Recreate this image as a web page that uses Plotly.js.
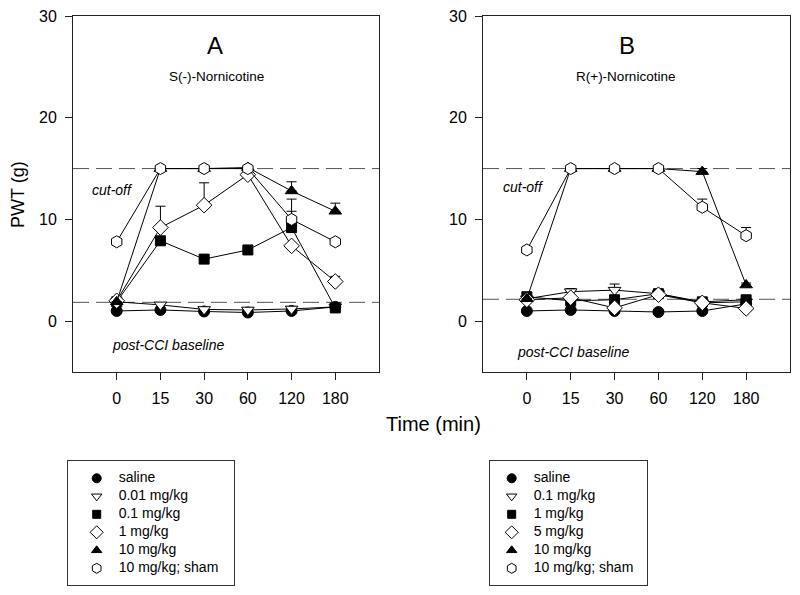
<!DOCTYPE html>
<html>
<head>
<meta charset="utf-8">
<script src="https://cdn.plot.ly/plotly-3.0.1.min.js"></script>
<style>html,body{margin:0;padding:0;background:#fff;}#chart{width:800px;height:595px;}</style>
</head>
<body>
<div id="chart"></div>
<script>
// ---- data ----
const timeCats = ['0', '15', '30', '60', '120', '180'];

// Panel A: S(-)-Nornicotine
const legendA = ['saline', '0.01 mg/kg', '0.1 mg/kg', '1 mg/kg', '10 mg/kg', '10 mg/kg; sham'];
const aSaline = [1.0, 1.1, 0.95, 0.85, 1.0, 1.4];
const a001 = [1.9, 1.6, 1.15, 1.1, 1.2, 1.4];
const a01 = [1.9, 7.9, 6.1, 7.0, 9.2, 1.3];
const a01Err = [null, null, null, 0.4, 1.6, null];
const a1 = [2.0, 9.2, 11.4, 14.4, 7.4, 3.9];
const a1Err = [null, 2.1, 2.2, null, null, 0.5];
const a10 = [1.9, 15, 15, 15.1, 12.8, 10.8];
const a10Err = [null, null, null, null, 0.9, 0.8];
const aSham = [7.8, 15, 15, 15, 10.0, 7.8];
const aShamErr = [null, null, null, null, 2.0, null];

// Panel B: R(+)-Nornicotine
const legendB = ['saline', '0.1 mg/kg', '1 mg/kg', '5 mg/kg', '10 mg/kg', '10 mg/kg; sham'];
const bSaline = [1.0, 1.1, 1.0, 0.9, 1.0, 1.7];
const b01 = [2.2, 2.9, 3.05, 2.7, 1.8, 1.9];
const b01Err = [null, 0.3, 0.6, 0.3, null, null];
const b1 = [2.4, 2.0, 2.1, 2.7, 1.9, 2.1];
const b1Err = [null, null, null, null, null, null];
const b5 = [2.1, 2.3, 1.3, 2.6, 1.8, 1.25];
const b5Err = [null, null, null, null, null, null];
const b10 = [2.2, 15, 15, 15, 14.7, 3.55];
const b10Err = [null, null, null, null, 0.3, 0.2];
const bSham = [7.0, 15, 15, 15, 11.2, 8.4];
const bShamErr = [null, null, null, null, 0.8, 0.8];

const cutoffA = 15, baselineA = 1.85;
const cutoffB = 15, baselineB = 2.15;

// ---- styles ----
const W = 800, H = 595;
const px = v => v / W;
const py = v => 1 - v / H;
const FONT = 'Arial, "Liberation Sans", sans-serif';
const styles = [
  {symbol: 'circle', color: '#000', size: 11},
  {symbol: 'triangle-down', color: '#fff', size: 11},
  {symbol: 'square', color: '#000', size: 10},
  {symbol: 'diamond', color: '#fff', size: 12},
  {symbol: 'triangle-up', color: '#000', size: 11},
  {symbol: 'hexagon', color: '#fff', size: 12}
];

function mk(name, y, err, st, xa, ya) {
  const t = {
    type: 'scatter', mode: 'lines+markers', name: name, x: timeCats, y: y,
    xaxis: xa, yaxis: ya, showlegend: false, cliponaxis: false,
    line: {color: '#000', width: 1},
    marker: {symbol: st.symbol, color: st.color, size: st.size, line: {color: '#000', width: 1}}
  };
  if (err) {
    t.error_y = {type: 'data', symmetric: false, array: err,
      arrayminus: err.map(() => 0), color: '#000', thickness: 1, width: 5};
  }
  return t;
}

const seriesA = [[aSaline, null], [a001, null], [a01, a01Err], [a1, a1Err], [a10, a10Err], [aSham, aShamErr]];
const seriesB = [[bSaline, null], [b01, b01Err], [b1, b1Err], [b5, b5Err], [b10, b10Err], [bSham, bShamErr]];

const data = [];
seriesA.forEach((s, i) => data.push(mk(legendA[i], s[0], s[1], styles[i], 'x', 'y')));
seriesB.forEach((s, i) => data.push(mk(legendB[i], s[0], s[1], styles[i], 'x2', 'y2')));

// legend keys: symbols + labels placed on their own small axes
function legendTraces(labels, xa, ya) {
  labels.forEach((lab, i) => {
    const st = styles[i];
    data.push({type: 'scatter', mode: 'markers', x: [0], y: [lab], xaxis: xa, yaxis: ya,
      showlegend: false, hoverinfo: 'skip', cliponaxis: false,
      marker: {symbol: st.symbol, color: st.color, size: st.size - 2, line: {color: '#000', width: 1}}});
  });
  data.push({type: 'scatter', mode: 'text', x: labels.map(() => 1.1), y: labels, text: labels,
    textposition: 'middle right', xaxis: xa, yaxis: ya, showlegend: false, hoverinfo: 'skip',
    cliponaxis: false, textfont: {family: FONT, size: 14, color: '#000'}});
}
legendTraces(legendA, 'x3', 'y3');
legendTraces(legendB, 'x4', 'y4');

const yDomain = [py(372), py(16)];
function xax(dom, anchor) {
  return {domain: dom, anchor: anchor, type: 'category', categoryorder: 'array', categoryarray: timeCats,
    range: [-1, 6], showline: true, mirror: true, linecolor: '#222', linewidth: 1,
    ticks: 'outside', ticklen: 7, tickcolor: '#222', showgrid: false, zeroline: false,
    tickfont: {family: FONT, size: 16, color: '#000'}, ticklabelstandoff: 5, fixedrange: true};
}
function yax(anchor) {
  return {domain: yDomain, anchor: anchor, range: [-5, 30], tickvals: [0, 10, 20, 30],
    showline: true, mirror: true, linecolor: '#222', linewidth: 1,
    ticks: 'outside', ticklen: 7, tickcolor: '#222', showgrid: false, zeroline: false,
    tickfont: {family: FONT, size: 16, color: '#000'}, ticklabelstandoff: 5, fixedrange: true};
}
// legend box axes: box 461..585 px, rows centred at 478.3 + 18*i
const ROW = 18;
const legY = [py(585), py(461)];
const legYRange = [5 + (585 - 568.3) / ROW, -(478.3 - 461) / ROW];
function legX(left, right, symX, anchor) {
  const u = 20;
  return {domain: [px(left), px(right)], anchor: anchor, range: [(left - symX) / u, (right - symX) / u],
    showline: true, mirror: true, linecolor: '#333', linewidth: 1, showticklabels: false,
    ticks: '', showgrid: false, zeroline: false, fixedrange: true};
}
function legYax(labels, anchor) {
  return {domain: legY, anchor: anchor, type: 'category', categoryorder: 'array', categoryarray: labels,
    range: legYRange, showline: true, mirror: true, linecolor: '#333', linewidth: 1,
    showticklabels: false, ticks: '', showgrid: false, zeroline: false, fixedrange: true};
}

function hline(xref, yref, y) {
  return {type: 'line', xref: xref + ' domain', yref: yref, x0: 0, x1: 1, y0: y, y1: y,
    line: {color: '#555', width: 1, dash: '16px,7px'}, layer: 'below'};
}
function txt(x, y, text, size, opts) {
  return Object.assign({xref: 'paper', yref: 'paper', x: px(x), y: py(y), text: text,
    showarrow: false, font: {family: FONT, size: size, color: '#000'},
    xanchor: 'center', yanchor: 'middle'}, opts || {});
}

const layout = {
  width: W, height: H, margin: {l: 0, r: 0, t: 0, b: 0},
  paper_bgcolor: '#fff', plot_bgcolor: '#fff', font: {family: FONT}, showlegend: false,
  xaxis: xax([px(73), px(379)], 'y'),
  yaxis: yax('x'),
  xaxis2: xax([px(483), px(790)], 'y2'),
  yaxis2: yax('x2'),
  xaxis3: legX(68, 234, 96.7, 'y3'),
  yaxis3: legYax(legendA, 'x3'),
  xaxis4: legX(490, 647, 511.7, 'y4'),
  yaxis4: legYax(legendB, 'x4'),
  shapes: [
    hline('x', 'y', cutoffA), hline('x', 'y', baselineA),
    hline('x2', 'y2', cutoffB), hline('x2', 'y2', baselineB)
  ],
  annotations: [
    txt(215, 46, 'A', 24),
    txt(216, 77, 'S(-)-Nornicotine', 13.5),
    txt(627, 46, 'B', 24),
    txt(625, 77, 'R(+)-Nornicotine', 13.5),
    txt(90, 190, '<i>cut-off</i>', 14, {xanchor: 'left'}),
    txt(501, 187, '<i>cut-off</i>', 14, {xanchor: 'left'}),
    txt(110, 345, '<i>post-CCI baseline</i>', 14, {xanchor: 'left'}),
    txt(515, 352, '<i>post-CCI baseline</i>', 14, {xanchor: 'left'}),
    txt(433, 424, 'Time (min)', 20),
    txt(18, 195, 'PWT (g)', 18, {textangle: -90})
  ]
};

Plotly.newPlot('chart', data, layout, {displayModeBar: false, staticPlot: true});
</script>
</body>
</html>
